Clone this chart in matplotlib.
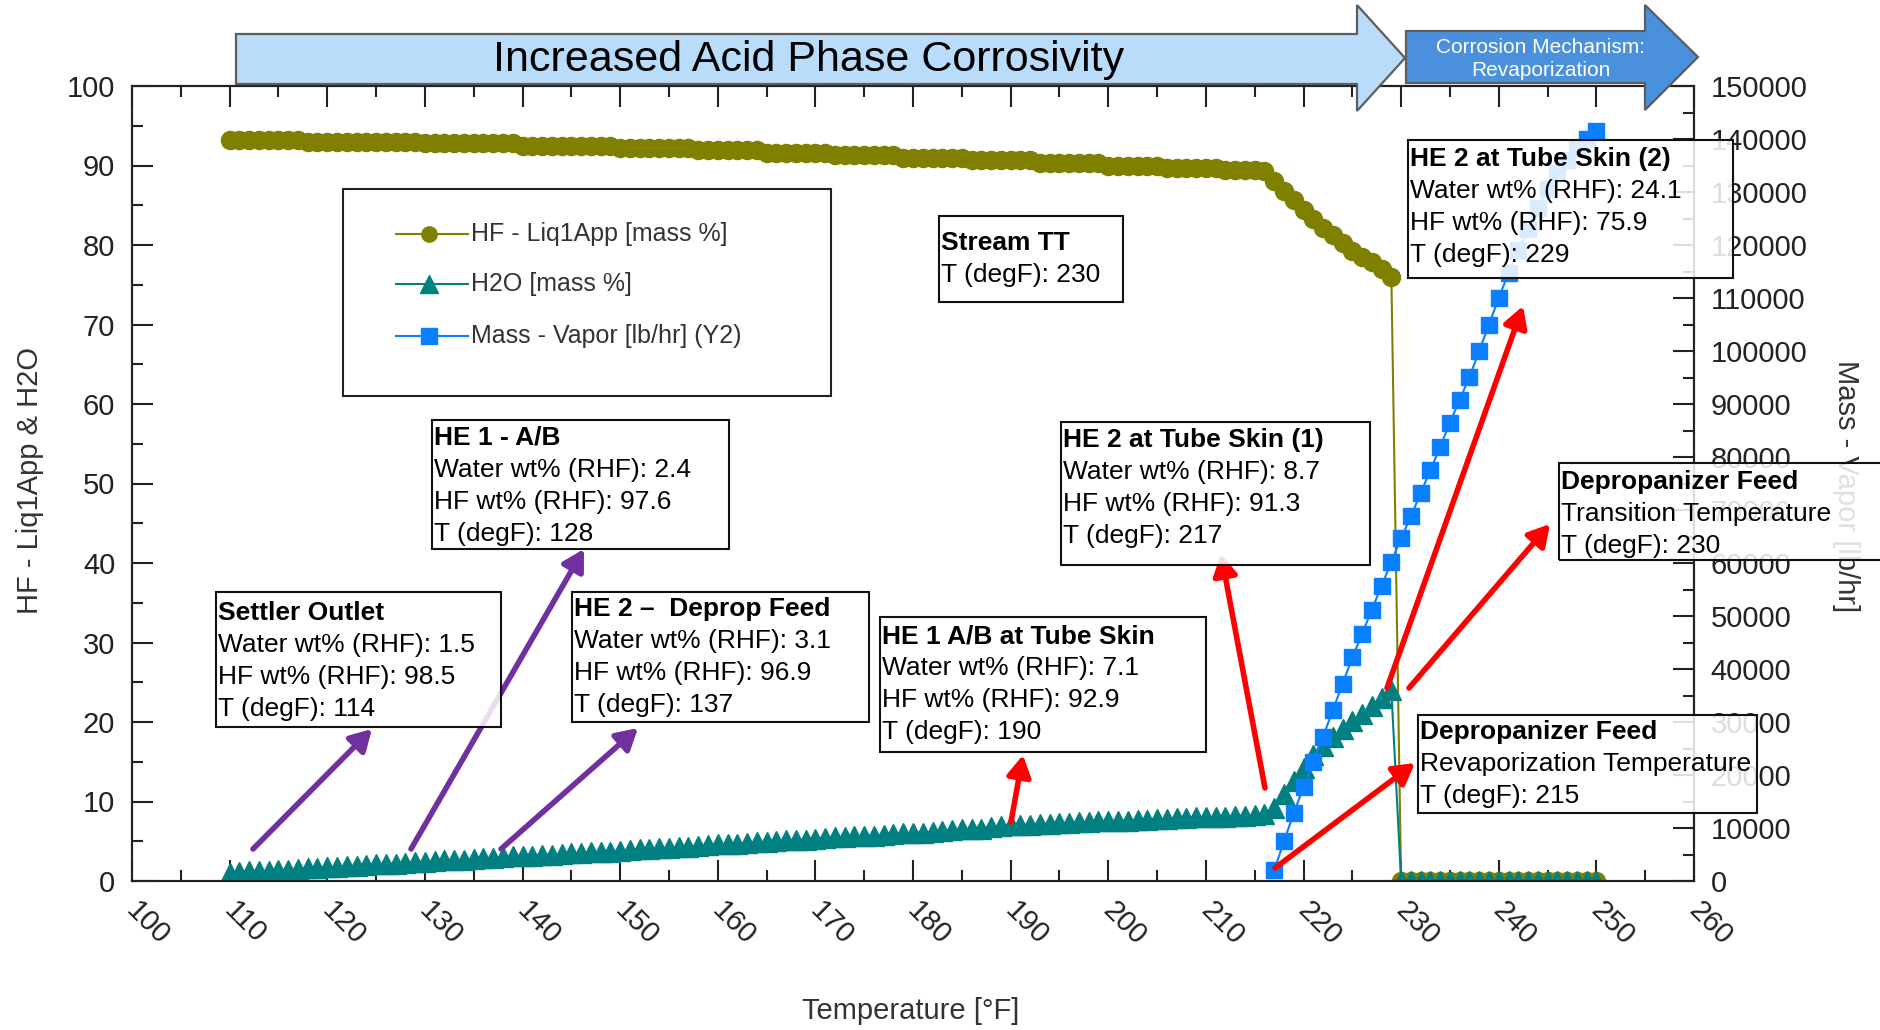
import matplotlib
matplotlib.use("Agg")
import matplotlib.pyplot as plt
from matplotlib.patches import Polygon, Rectangle, FancyArrowPatch
from matplotlib.lines import Line2D
from matplotlib.ticker import MultipleLocator
from matplotlib.transforms import ScaledTranslation

plt.rcParams['font.family'] = ['Liberation Sans', 'DejaVu Sans']

# ---- data ----
temp = list(range(110, 251))

hf_liq = [
    93.2, 93.2, 93.2, 93.2, 93.2, 93.2, 93.2, 93.2, 93.0, 93.0,      # 110-119
    93.0, 93.0, 93.0, 93.0, 93.0, 93.0, 93.0, 93.0, 93.0, 93.0,      # 120-129
    92.8, 92.8, 92.8, 92.8, 92.8, 92.8, 92.8, 92.8, 92.8, 92.8,      # 130-139
    92.5, 92.5, 92.5, 92.5, 92.5, 92.5, 92.5, 92.5, 92.5, 92.5,      # 140-149
    92.2, 92.2, 92.2, 92.2, 92.2, 92.2, 92.2, 92.2, 91.9, 91.9,      # 150-159
    91.9, 91.9, 91.9, 91.9, 91.9, 91.6, 91.6, 91.6, 91.6, 91.6,      # 160-169
    91.6, 91.6, 91.3, 91.3, 91.3, 91.3, 91.3, 91.3, 91.3, 91.0,      # 170-179
    91.0, 91.0, 91.0, 91.0, 91.0, 91.0, 90.7, 90.7, 90.7, 90.7,      # 180-189
    90.7, 90.7, 90.7, 90.3, 90.3, 90.3, 90.3, 90.3, 90.3, 90.3,      # 190-199
    90.0, 90.0, 90.0, 90.0, 90.0, 90.0, 89.7, 89.7, 89.7, 89.7,      # 200-209
    89.7, 89.7, 89.4, 89.4, 89.4, 89.4, 89.3, 88.1, 86.8, 85.6,      # 210-219
    84.4, 83.3, 82.2, 81.2, 80.2, 79.3, 78.5, 77.8, 77.0, 76.0,      # 220-229
    0, 0, 0, 0, 0, 0, 0, 0, 0, 0,                                    # 230-239
    0, 0, 0, 0, 0, 0, 0, 0, 0, 0,                                    # 240-249
    0,                                                               # 250
]

h2o = [
    1.0, 1.1, 1.2, 1.2, 1.3, 1.4, 1.4, 1.5, 1.6, 1.6,                # 110-119
    1.7, 1.8, 1.9, 1.9, 2.0, 2.1, 2.1, 2.2, 2.3, 2.4,                # 120-129
    2.4, 2.5, 2.6, 2.6, 2.7, 2.8, 2.9, 2.9, 3.0, 3.1,                # 130-139
    3.1, 3.2, 3.3, 3.3, 3.4, 3.5, 3.5, 3.6, 3.7, 3.7,                # 140-149
    3.8, 3.9, 4.0, 4.0, 4.1, 4.2, 4.3, 4.3, 4.4, 4.5,                # 150-159
    4.6, 4.6, 4.7, 4.8, 4.9, 4.9, 5.0, 5.1, 5.2, 5.2,                # 160-169
    5.3, 5.4, 5.5, 5.5, 5.6, 5.7, 5.7, 5.8, 5.9, 6.0,                # 170-179
    6.1, 6.1, 6.2, 6.3, 6.4, 6.5, 6.5, 6.6, 6.8, 6.9,                # 180-189
    7.0, 7.1, 7.1, 7.2, 7.2, 7.3, 7.3, 7.4, 7.4, 7.5,                # 190-199
    7.5, 7.6, 7.6, 7.7, 7.7, 7.8, 7.8, 7.9, 7.9, 8.0,                # 200-209
    8.0, 8.1, 8.1, 8.2, 8.2, 8.3, 8.4, 9.2, 11.0, 12.6,              # 210-219
    14.2, 15.8, 17.0, 18.1, 19.1, 20.1, 21.0, 22.0, 23.0, 24.0,      # 220-229
    0, 0, 0, 0, 0, 0, 0, 0, 0, 0,                                    # 230-239
    0, 0, 0, 0, 0, 0, 0, 0, 0, 0,                                    # 240-249
    0,                                                               # 250
]

temp_vap = list(range(217, 251))
vapor = [
    2000, 7500, 12800,                                               # 217-219
    17700, 22500, 27200, 32200, 37200, 42200, 46600, 51200, 55700, 60200,   # 220-229
    64700, 68800, 73200, 77500, 81900, 86500, 90800, 95100, 100000, 105000, # 230-239
    110000, 114700, 119000, 123000, 127000, 130500, 133500, 136000, 138300, 140000,  # 240-249
    141500,                                                          # 250
]

# callout boxes: (x0, y0, x1, y1) in pixels from top-left, first line centre, title, lines
callouts = [
    ((216, 592, 501, 727), 613, "Settler Outlet",
     ["Water wt% (RHF): 1.5", "HF wt% (RHF): 98.5", "T (degF): 114"]),
    ((432, 420, 729, 549), 438, "HE 1 - A/B",
     ["Water wt% (RHF): 2.4", "HF wt% (RHF): 97.6", "T (degF): 128"]),
    ((572, 592, 869, 722), 609, "HE 2 \u2013  Deprop Feed",
     ["Water wt% (RHF): 3.1", "HF wt% (RHF): 96.9", "T (degF): 137"]),
    ((939, 216, 1123, 302), 243, "Stream TT", ["T (degF): 230"]),
    ((880, 617, 1206, 752), 636, "HE 1 A/B at Tube Skin",
     ["Water wt% (RHF): 7.1", "HF wt% (RHF): 92.9", "T (degF): 190"]),
    ((1061, 422, 1370, 565), 440, "HE 2 at Tube Skin (1)",
     ["Water wt% (RHF): 8.7", "HF wt% (RHF): 91.3", "T (degF): 217"]),
    ((1408, 140, 1733, 278), 159, "HE 2 at Tube Skin (2)",
     ["Water wt% (RHF): 24.1", "HF wt% (RHF): 75.9", "T (degF): 229"]),
    ((1559, 463, 1900, 560), 482, "Depropanizer Feed",
     ["Transition Temperature", "T (degF): 230"]),
    ((1418, 715, 1757, 813), 732, "Depropanizer Feed",
     ["Revaporization Temperature", "T (degF): 215"]),
]

# pointer arrows: tail -> head, pixels
pointers = [
    ((253, 849), (372, 729), '#7030A0'),
    ((411, 849), (584, 549), '#7030A0'),
    ((501, 849), (638, 728), '#7030A0'),
    ((1011, 822), (1023, 755), '#FF0000'),
    ((1265, 788), (1221, 554), '#FF0000'),
    ((1387, 688), (1523, 306), '#FF0000'),
    ((1409, 688), (1550, 524), '#FF0000'),
    ((1275, 868), (1415, 763), '#FF0000'),
]

W, H = 1880, 1030


def fx(x):
    return x / W


def fy(y):
    return 1 - y / H


fig = plt.figure(figsize=(W / 100, H / 100), dpi=100)
ax = fig.add_axes([fx(132), fy(881), (1694 - 132) / W, (881 - 86) / H])
ax2 = ax.twinx()

c_hf, c_h2o, c_vap = '#808000', '#008080', '#0A7FFF'
ax.plot(temp, hf_liq, color=c_hf, lw=1.5, marker='o', ms=13, mec=c_hf, zorder=2)
ax.plot(temp, h2o, color=c_h2o, lw=1.5, marker='^', ms=14, mec=c_h2o, zorder=3)
ax2.plot(temp_vap, vapor, color=c_vap, lw=1.5, marker='s', ms=12, mec=c_vap)

ax.set_xlim(100, 260)
ax.set_ylim(0, 100)
ax2.set_ylim(0, 150000)

tick_col = '#222222'
ax.xaxis.set_major_locator(MultipleLocator(10))
ax.xaxis.set_minor_locator(MultipleLocator(5))
ax.yaxis.set_major_locator(MultipleLocator(10))
ax.yaxis.set_minor_locator(MultipleLocator(5))
ax2.yaxis.set_major_locator(MultipleLocator(10000))
ax2.yaxis.set_minor_locator(MultipleLocator(5000))

ax.tick_params(which='major', direction='in', length=15, width=1.5, top=True, right=False,
               labelsize=21, labelcolor=tick_col, color=tick_col)
ax.tick_params(which='minor', direction='in', length=8, width=1.5, top=True, right=False,
               color=tick_col)
ax.tick_params(axis='y', pad=12)
ax.tick_params(axis='x', pad=11, labelrotation=-45)
shift = ScaledTranslation(-11 / 100, 0, fig.dpi_scale_trans)
for lbl in ax.get_xticklabels():
    lbl.set_ha('left')
    lbl.set_va('top')
    lbl.set_transform(lbl.get_transform() + shift)
ax2.tick_params(which='major', direction='in', length=15, width=1.5, labelsize=21,
                labelcolor=tick_col, color=tick_col, pad=12)
ax2.tick_params(which='minor', direction='in', length=8, width=1.5, color=tick_col)
for a in (ax, ax2):
    for s in a.spines.values():
        s.set_linewidth(1.5)
        s.set_color(tick_col)

# axis titles
lab_col = '#333333'
fig.text(fx(30), fy(480), "HF - Liq1App & H2O", rotation=90, ha='center', va='center',
         fontsize=21, color=lab_col)
fig.text(fx(911), fy(1011), "Temperature [\u00b0F]", ha='center', va='center',
         fontsize=21, color=lab_col)
fig.text(fx(1846), fy(486), "Mass - Vapor [lb/hr]", rotation=270, ha='center', va='center',
         fontsize=21, color=lab_col)

# banner arrows
banner1 = [(236, 34), (1357, 34), (1357, 5), (1405, 58), (1357, 111), (1357, 84), (236, 84)]
banner2 = [(1406, 31), (1645, 31), (1645, 5), (1698, 57), (1645, 110), (1645, 83), (1406, 83)]
fig.add_artist(Polygon([(fx(x), fy(y)) for x, y in banner1], closed=True,
                       transform=fig.transFigure, fc='#B8DCF9', ec='#5E5E5E', lw=1.6, zorder=4))
fig.add_artist(Polygon([(fx(x), fy(y)) for x, y in banner2], closed=True,
                       transform=fig.transFigure, fc='#4A90DC', ec='#5E5E5E', lw=1.6, zorder=4))
fig.text(fx(809), fy(60), "Increased Acid Phase Corrosivity", ha='center', va='center',
         fontsize=31, color='black', zorder=5)
fig.text(fx(1541), fy(59), "Corrosion Mechanism:\nRevaporization", ha='center', va='center',
         fontsize=15, color='white', linespacing=1.3, zorder=5)

# legend box
fig.add_artist(Rectangle((fx(343), fy(396)), (831 - 343) / W, (396 - 189) / H,
                         transform=fig.transFigure, fc='white', ec='#222222', lw=1.5, zorder=4))
leg_items = [
    (234, c_hf, 'o', 11, "HF - Liq1App [mass %]"),
    (284, c_h2o, '^', 13, "H2O [mass %]"),
    (336, c_vap, 's', 11, "Mass - Vapor [lb/hr] (Y2)"),
]
for ly, col, mk, ms, txt in leg_items:
    fig.add_artist(Line2D([fx(396), fx(429), fx(468)], [fy(ly)] * 3, transform=fig.transFigure,
                          color=col, lw=1.5, marker=mk, ms=ms, markevery=[1], zorder=5))
    fig.text(fx(471), fy(ly), txt, ha='left', va='center', fontsize=18, color='#333333', zorder=5)

# pointer arrows
for (x0, y0), (x1, y1), col in pointers:
    fig.add_artist(FancyArrowPatch((fx(x0), fy(y0)), (fx(x1), fy(y1)),
                                   transform=fig.transFigure, arrowstyle='-|>,head_length=0.7,head_width=0.4',
                                   mutation_scale=18, lw=4, color=col, shrinkA=0, shrinkB=0, zorder=5))

# callout boxes
for (x0, y0, x1, y1), first, title, lines in callouts:
    fig.add_artist(Rectangle((fx(x0), fy(y1)), (x1 - x0) / W, (y1 - y0) / H,
                             transform=fig.transFigure, fc='white', alpha=0.85, ec='none', zorder=6))
    fig.add_artist(Rectangle((fx(x0), fy(y1)), (x1 - x0) / W, (y1 - y0) / H,
                             transform=fig.transFigure, fc='none', ec='#111111', lw=1.5, zorder=6))
    fig.text(fx(x0 + 2), fy(first), title, ha='left', va='center', fontsize=19,
             fontweight='bold', color='black', zorder=7)
    for i, ln in enumerate(lines):
        fig.text(fx(x0 + 2), fy(first + 32 * (i + 1)), ln, ha='left', va='center',
                 fontsize=19, color='black', zorder=7)

fig.savefig("out.png", dpi=100)
